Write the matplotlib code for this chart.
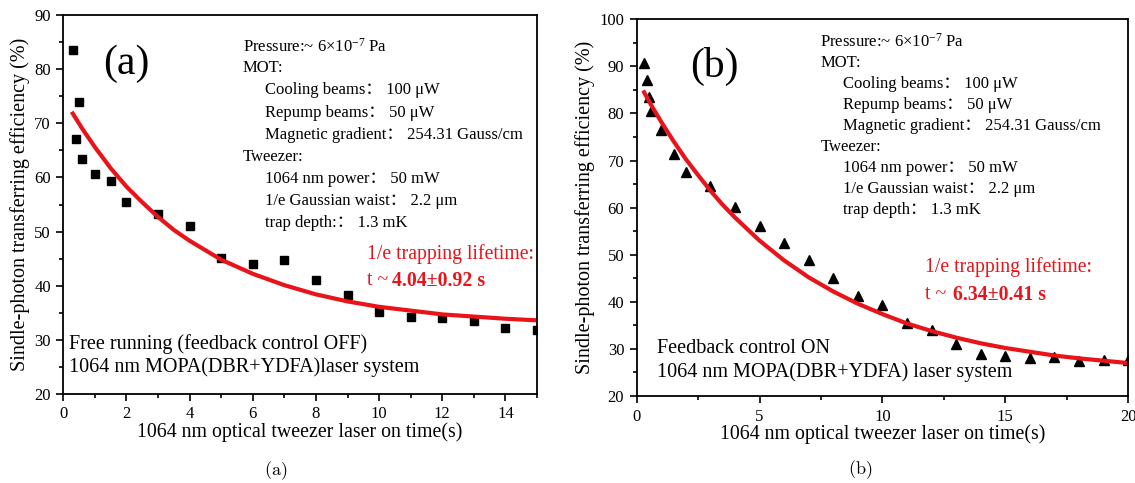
import numpy as np
import matplotlib
matplotlib.use('Agg')
import matplotlib.pyplot as plt
from matplotlib.ticker import MultipleLocator

plt.rcParams['font.family'] = ['Liberation Serif', 'Noto Sans CJK SC', 'DejaVu Serif']
plt.rcParams['mathtext.fontset'] = 'custom'
plt.rcParams['mathtext.rm'] = 'Liberation Serif'
plt.rcParams['mathtext.it'] = 'Liberation Serif:italic'

# panel (a): feedback control OFF
t_a = [0.3, 0.4, 0.5, 0.6, 1, 1.5, 2, 3, 4, 5, 6, 7, 8, 9, 10, 11, 12, 13, 14, 15]
eff_a = [83.6, 67.1, 74.0, 63.4, 60.7, 59.4, 55.4, 53.3, 51.0, 45.2,
         44.0, 44.7, 41.1, 38.3, 35.1, 34.2, 34.1, 33.5, 32.1, 31.9]
fit_t_a = [0.3, 0.6, 1, 1.5, 2, 2.5, 3, 3.5, 4, 5, 6, 7, 8, 9, 10, 11, 12, 13, 14, 15]
fit_a = [71.8, 69.0, 65.6, 61.7, 58.3, 55.4, 52.7, 50.3, 48.3, 44.8,
         42.2, 40.1, 38.4, 37.1, 36.1, 35.4, 34.7, 34.3, 33.9, 33.6]

# panel (b): feedback control ON
t_b = [0.3, 0.4, 0.5, 0.6, 1, 1.5, 2, 3, 4, 5, 6, 7, 8, 9, 10,
       11, 12, 13, 14, 15, 16, 17, 18, 19, 20]
eff_b = [90.7, 87.2, 83.6, 80.5, 76.6, 71.3, 67.6, 64.7, 60.1, 56.2, 52.6, 48.8, 45.1,
         41.2, 39.4, 35.6, 34.1, 31.1, 29.0, 28.4, 28.0, 28.3, 27.4, 27.6, 27.7]
fit_t_b = [0.3, 0.6, 1, 1.5, 2, 2.5, 3, 3.5, 4, 5, 6, 7, 8, 9, 10,
           11, 12, 13, 14, 15, 16, 17, 18, 19, 20]
fit_b = [84.5, 81.7, 78.2, 74.1, 70.3, 66.9, 63.6, 60.6, 57.9, 53.0, 48.8, 45.2, 42.2,
         39.6, 37.4, 35.4, 33.8, 32.4, 31.2, 30.2, 29.4, 28.6, 28.0, 27.5, 27.0]

# (text, indented?)
info_common = [('Pressure:~ 6\u00d710$^{-7}$ Pa', False),
               ('MOT:', False),
               ('Cooling beams\uff1a 100 \u03bcW', True),
               ('Repump beams\uff1a 50 \u03bcW', True),
               ('Magnetic gradient\uff1a 254.31 Gauss/cm', True),
               ('Tweezer:', False),
               ('1064 nm power\uff1a 50 mW', True),
               ('1/e Gaussian waist\uff1a 2.2 \u03bcm', True)]

RED = '#e8141a'
fig = plt.figure(figsize=(11.35, 4.83), dpi=100)
ax_a = fig.add_axes([0.0558, 0.1843, 0.4173, 0.7846])
ax_b = fig.add_axes([0.561, 0.1801, 0.4329, 0.7799])


def style(ax):
    for s in ax.spines.values():
        s.set_linewidth(1.3)
    ax.tick_params(which='both', direction='out', top=False, right=False,
                   labelsize=12, width=1.2, pad=4)
    ax.tick_params(which='major', length=5)
    ax.tick_params(which='minor', length=3)
    ax.set_xlabel('1064 nm optical tweezer laser on time(s)', fontsize=14.3, labelpad=0)
    ax.set_ylabel('Sindle-photon transferring efficiency (%)', fontsize=14.5, labelpad=3)


def info(ax, x0, x1, y0, dy, depth_label):
    lines = info_common + [(depth_label, True)]
    for i, (s, ind) in enumerate(lines):
        ax.text(x1 if ind else x0, y0 - i * dy, s, fontsize=12, va='center', ha='left')


# (a)
ax_a.plot(t_a, eff_a, 's', color='black', markersize=6)
ax_a.plot(fit_t_a, fit_a, '-', color=RED, lw=3)
ax_a.set_xlim(0, 15)
ax_a.set_ylim(20, 90)
ax_a.xaxis.set_major_locator(MultipleLocator(2))
ax_a.xaxis.set_minor_locator(MultipleLocator(1))
ax_a.yaxis.set_major_locator(MultipleLocator(10))
ax_a.yaxis.set_minor_locator(MultipleLocator(5))
style(ax_a)
ax_a.text(1.27, 81.0, '(a)', fontsize=30, va='center')
info(ax_a, 5.69, 6.39, 84.2, 4.07, 'trap depth:\uff1a 1.3 mK')
ax_a.text(9.62, 45.8, '1/e trapping lifetime:', color=RED, fontsize=14.2, va='center')
ax_a.text(9.62, 40.9, 't ~ ', color=RED, fontsize=14.2, va='center')
ax_a.text(10.41, 40.9, '4.04\u00b10.92 s', color=RED, fontsize=14.2, va='center',
          fontweight='bold')
ax_a.text(0.17, 29.3, 'Free running (feedback control OFF)', fontsize=14.5, va='center')
ax_a.text(0.17, 25.0, '1064 nm MOPA(DBR+YDFA)laser system', fontsize=14.5, va='center')

# (b)
ax_b.plot(t_b, eff_b, '^', color='black', markersize=7.5)
ax_b.plot(fit_t_b, fit_b, '-', color=RED, lw=3)
ax_b.set_xlim(0, 20)
ax_b.set_ylim(20, 100)
ax_b.xaxis.set_major_locator(MultipleLocator(5))
ax_b.xaxis.set_minor_locator(MultipleLocator(2.5))
ax_b.yaxis.set_major_locator(MultipleLocator(10))
ax_b.yaxis.set_minor_locator(MultipleLocator(5))
style(ax_b)
ax_b.text(2.16, 89.9, '(b)', fontsize=30, va='center')
info(ax_b, 7.47, 8.39, 95.2, 4.46, 'trap depth\uff1a 1.3 mK')
ax_b.text(11.75, 47.4, '1/e trapping lifetime:', color=RED, fontsize=14.2, va='center')
ax_b.text(11.75, 41.5, 't ~ ', color=RED, fontsize=14.2, va='center')
ax_b.text(12.86, 41.5, '6.34\u00b10.41 s', color=RED, fontsize=14.2, va='center',
          fontweight='bold')
ax_b.text(0.84, 30.1, 'Feedback control ON', fontsize=14.5, va='center')
ax_b.text(0.84, 25.1, '1064 nm MOPA(DBR+YDFA) laser system', fontsize=14.5, va='center')

fig.text(275.6 / 1135, 1 - 471 / 483, r'$\mathrm{(a)}$', fontsize=13, ha='center',
         va='center', math_fontfamily='cm')
fig.text(859.7 / 1135, 1 - 470 / 483, r'$\mathrm{(b)}$', fontsize=13, ha='center',
         va='center', math_fontfamily='cm')

fig.savefig('out.png', dpi=100)
